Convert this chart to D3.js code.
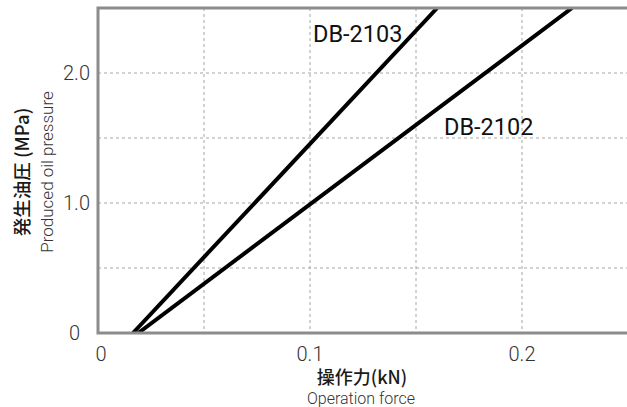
<!DOCTYPE html>
<html><head><meta charset="utf-8">
<script src="https://cdn.jsdelivr.net/npm/d3@7"></script>
<style>
html,body{margin:0;padding:0;background:#fff;}
svg{display:block;}
</style></head>
<body>
<svg id="chart" width="627" height="407"></svg>
<script>
// Data
const seriesNames = ["DB-2103", "DB-2102"];
const forceDB2103 = [0.0165, 0.160];
const pressureDB2103 = [0, 2.5];
const forceDB2102 = [0.019, 0.2236];
const pressureDB2102 = [0, 2.5];
const xTicks = [0, 0.1, 0.2];
const xTickLabels = ["0", "0.1", "0.2"];
const yTicks = [0, 1.0, 2.0];
const yTickLabels = ["0", "1.0", "2.0"];
const xGrid = [0.05, 0.1, 0.15, 0.2];
const yGrid = [0.5, 1.0, 1.5, 2.0];

const svg = d3.select("#chart");
const x = d3.scaleLinear().domain([0, 0.25]).range([98, 628]);
const y = d3.scaleLinear().domain([0, 2.5]).range([333, 8]);

// grid
svg.append("g").selectAll("line").data(xGrid).join("line")
  .attr("x1", d => x(d)).attr("x2", d => x(d))
  .attr("y1", y(2.5)).attr("y2", y(0))
  .attr("stroke", "#a6a6a6").attr("stroke-width", 1).attr("stroke-dasharray", "3,3");
svg.append("g").selectAll("line").data(yGrid).join("line")
  .attr("x1", x(0)).attr("x2", x(0.25))
  .attr("y1", d => y(d)).attr("y2", d => y(d))
  .attr("stroke", "#a6a6a6").attr("stroke-width", 1).attr("stroke-dasharray", "3,3");

// clip
svg.append("clipPath").attr("id", "clip").append("rect")
  .attr("x", x(0)).attr("y", y(2.5)).attr("width", x(0.25) - x(0)).attr("height", y(0) - y(2.5));

const line = d3.line().x(d => x(d[0])).y(d => y(d[1]));
const series = [
  d3.zip(forceDB2103, pressureDB2103),
  d3.zip(forceDB2102, pressureDB2102)
];
svg.append("g").attr("clip-path", "url(#clip)").selectAll("path").data(series).join("path")
  .attr("d", line).attr("fill", "none").attr("stroke", "#000").attr("stroke-width", 4);

// frame
const frame = svg.append("g").attr("stroke", "#8c8c8c").attr("stroke-width", 3).attr("fill", "none");
frame.append("path").attr("d", `M${x(0.25)},${y(2.5)}H${x(0)}V${y(0)}H${x(0.25)}`);

// tick labels
const tickFont = "Roboto, sans-serif";
svg.append("g").selectAll("text").data(xTicks).join("text")
  .attr("x", d => x(d) + (d === 0 ? 3 : 0)).attr("y", 361)
  .attr("text-anchor", "middle").attr("font-family", tickFont).attr("font-weight", 300)
  .attr("font-size", 20).attr("fill", "#333")
  .text((d, i) => xTickLabels[i]);
svg.append("g").selectAll("text").data(yTicks).join("text")
  .attr("x", d => d === 0 ? 80 : 90).attr("y", d => y(d) + 7)
  .attr("text-anchor", "end").attr("font-family", tickFont).attr("font-weight", 300)
  .attr("font-size", 20).attr("fill", "#333")
  .text((d, i) => yTickLabels[i]);

// series labels
const labelX = [313, 444];
const labelY = [42, 135];
svg.append("g").selectAll("text").data(seriesNames).join("text")
  .attr("x", (d, i) => labelX[i]).attr("y", (d, i) => labelY[i])
  .attr("font-family", tickFont).attr("font-size", 23.5).attr("fill", "#111")
  .text(d => d);

// axis titles
const cjk = "'Noto Sans CJK JP', sans-serif";
svg.append("text").attr("x", 362).attr("y", 384).attr("text-anchor", "middle")
  .attr("font-family", cjk).attr("font-weight", 500).attr("font-size", 18).attr("fill", "#1a1a1a")
  .text("操作力(kN)");
svg.append("text").attr("x", 361).attr("y", 404).attr("text-anchor", "middle")
  .attr("font-family", tickFont).attr("font-weight", 300).attr("font-size", 16).attr("fill", "#333")
  .text("Operation force");
svg.append("text").attr("transform", "translate(29,172) rotate(-90)").attr("text-anchor", "middle")
  .attr("font-family", cjk).attr("font-weight", 500).attr("font-size", 18.5).attr("fill", "#1a1a1a")
  .text("発生油圧 (MPa)");
svg.append("text").attr("transform", "translate(53,172) rotate(-90)").attr("text-anchor", "middle")
  .attr("font-family", tickFont).attr("font-weight", 300).attr("font-size", 17).attr("fill", "#333")
  .text("Produced oil pressure");
</script>
</body></html>
